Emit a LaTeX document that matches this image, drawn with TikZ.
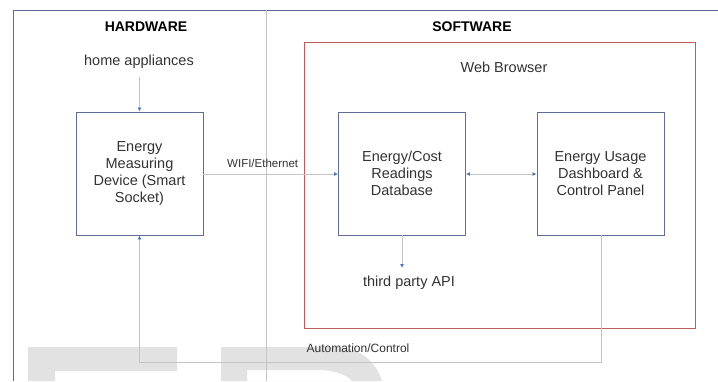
\documentclass[tikz,border=0pt]{standalone}
\usepackage{fontspec}
\setmainfont{Liberation Sans}
\usetikzlibrary{arrows.meta}
\definecolor{framec}{HTML}{5A6A96}
\definecolor{boxc}{HTML}{5E6E98}
\definecolor{linec}{HTML}{C4C4C4}
\definecolor{tipc}{HTML}{4A72C0}
\definecolor{redc}{HTML}{BF5C5C}
\definecolor{wmc}{HTML}{E2E2E2}
\definecolor{txtc}{HTML}{333333}
\tikzset{
  blk/.style={draw=boxc, line width=0.9pt, minimum width=127pt, minimum height=123pt, align=center,
    font=\fontsize{14.5}{17}\selectfont, text=txtc, inner sep=0pt},
  lbl/.style={font=\fontsize{14.5}{17}\selectfont, text=txtc, inner sep=0pt},
  small/.style={font=\fontsize{11.5}{14}\selectfont, text=txtc, inner sep=0pt},
  head/.style={font=\bfseries\fontsize{14}{17}\selectfont, text=black, inner sep=0pt},
  conn/.style={draw=linec, line width=0.9pt},
  arr/.style={conn, -{Latex[length=4pt,width=4pt,color=tipc]}},
  darr/.style={conn, {Latex[length=4pt,width=4pt,color=tipc]}-{Latex[length=4pt,width=4pt,color=tipc]}},
}
\begin{document}
\begin{tikzpicture}[x=1pt,y=-1pt]
\useasboundingbox (0,0) rectangle (718,381);
\fill[white] (0,0) rectangle (718,381);
% watermark
\fill[wmc] (28,381) -- (28,347) -- (177,347) -- (177,371) -- (55,371) -- (55,381) -- cycle;
\fill[wmc, even odd rule] (221,381) -- (221,347) -- (335,347) .. controls (360,347) and (376,362) .. (382,381) -- cycle
  (247,381) -- (247,370) -- (318,370) .. controls (335,370) and (347,375) .. (352,381) -- cycle;
% frame and divider
\draw[framec, line width=0.9pt] (13,381) -- (13,10) -- (718,10);
\draw[linec, line width=0.9pt] (266,10) -- (266,381);
% headers
\node[head] (hw) at (146,27) {HARDWARE};
\node[head] (sw) at (472,27) {SOFTWARE};
% web browser box
\draw[redc, line width=0.8pt] (304,42) rectangle (695,328);
\node[lbl] (wb) at (504,67) {Web Browser};
% blocks
\node[blk] (dev) at (139.5,173.5) {Energy\\Measuring\\Device (Smart\\Socket)};
\node[blk] (db) at (402,173.5) {Energy/Cost\\Readings\\Database};
\node[blk] (dash) at (600.5,173.5) {Energy Usage\\Dashboard \&\\Control Panel};
% texts
\node[lbl] (home) at (139,62) {home appliances};
\node[lbl] (api) at (409,283) {third party API};
\coordinate (homeb) at (139.5,77);
\coordinate (apit) at (402,268);
% connectors
\draw[arr] (homeb) -- (dev.north);
\draw[arr] (dev.east |- 0,174) -- node[small, pos=0.44, above=6pt] (wifi) {WIFI/Ethernet} (db.west |- 0,174);
\draw[darr] (db.east |- 0,174) -- (dash.west |- 0,174);
\draw[arr] (db.south) -- (apit);
\coordinate (c1) at (601,362);
\coordinate (c2) at (139.5,362);
\draw[arr] (dash.south -| c1) -- (c1) -- (c2) -- (dev.south);
\node[small, font=\fontsize{12}{14}\selectfont] (auto) at (358,348) {Automation/Control};
\end{tikzpicture}
\end{document}
